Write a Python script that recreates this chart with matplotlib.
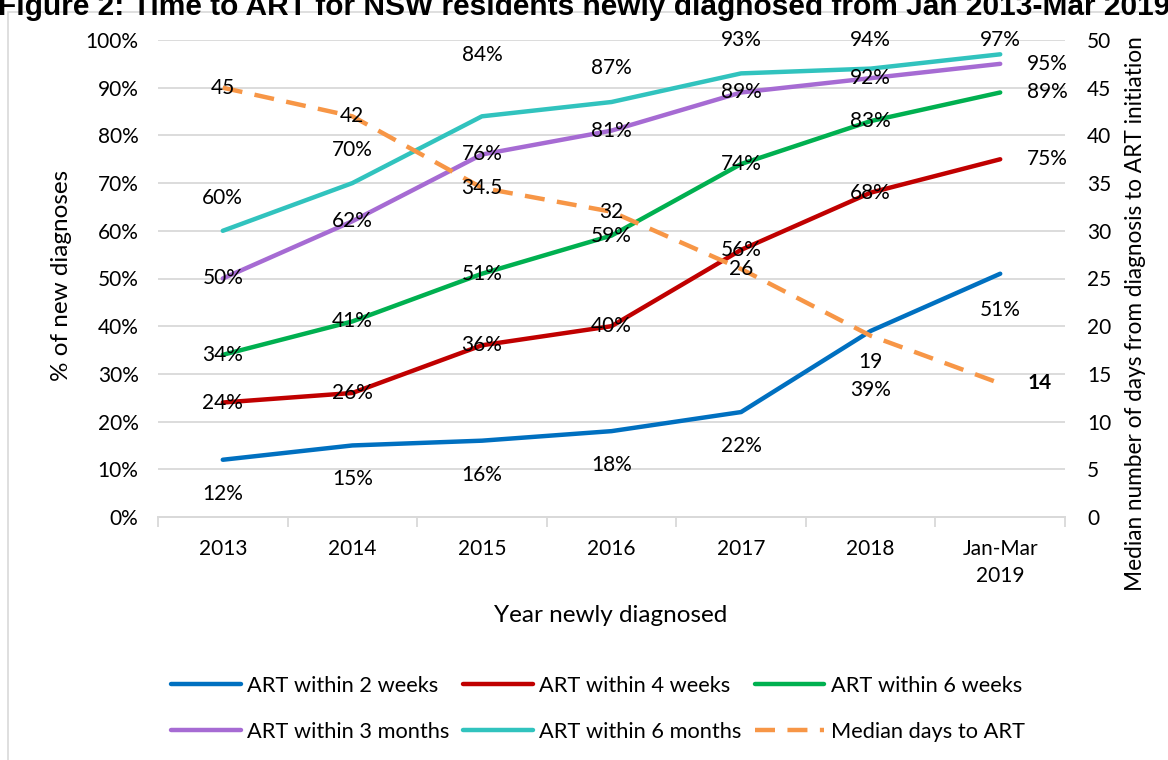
import numpy as np
import matplotlib.pyplot as plt
from matplotlib.patches import Rectangle

plt.rcParams['font.family'] = ['Lato', 'DejaVu Sans']

years = ['2013', '2014', '2015', '2016', '2017', '2018', 'Jan-Mar\n2019']
wk2 = [12, 15, 16, 18, 22, 39, 51]
wk4 = [24, 26, 36, 40, 56, 68, 75]
wk6 = [34, 41, 51, 59, 74, 83, 89]
mo3 = [50, 62, 76, 81, 89, 92, 95]
mo6 = [60, 70, 84, 87, 93, 94, 97]
median_days = [45, 42, 34.5, 32, 26, 19, 14]

W, H = 1168, 760
FS = 15
fig = plt.figure(figsize=(W/100, H/100), dpi=100)

# chart-area frame (partly cropped like the original screenshot)
fig.patches.append(Rectangle((8/W, -0.1), 1.2, 1 - 12/H + 0.1, transform=fig.transFigure,
                             fill=False, edgecolor='#D9D9D9', lw=1.2))
# title is cropped at the top edge in the source screenshot
fig.text(-2/W, 1 - 15/H, 'Figure 2: Time to ART for NSW residents newly diagnosed from Jan 2013-Mar 2019',
         family='Liberation Sans', weight='bold', fontsize=21.5, va='baseline', ha='left')

ax = fig.add_axes([158/W, 1 - 517/H, (1065-158)/W, (517-40)/H])
ax2 = ax.twinx()
x = np.arange(len(years))

series = [
    ('ART within 2 weeks', wk2, '#0070C0'),
    ('ART within 4 weeks', wk4, '#C00000'),
    ('ART within 6 weeks', wk6, '#00B050'),
    ('ART within 3 months', mo3, '#A66BD3'),
    ('ART within 6 months', mo6, '#31C3BE'),
]

# label offsets in pixels (dx, dy), dy up
offsets = {
    'ART within 2 weeks': [(0, -34)] * 5 + [(0, -59), (0, -36)],
    'ART within 4 weeks': [(0, 0)] * 6 + ['right'],
    'ART within 6 weeks': [(0, 0)] * 6 + ['right'],
    'ART within 3 months': [(0, 0)] * 6 + ['right'],
    'ART within 6 months': [(0, 33), (0, 33), (0, 61), (0, 34), (0, 33), (0, 29), (0, 14)],
}

handles = []
for name, vals, col in series:
    h, = ax.plot(x, vals, color=col, lw=3.2, solid_capstyle='round', label=name, zorder=3)
    handles.append(h)
    for i, v in enumerate(vals):
        off = offsets[name][i]
        if off == 'right':
            ax.annotate(f'{v}%', (x[i], v), xytext=(27*0.72, 0), textcoords='offset points',
                        ha='left', va='center', fontsize=FS, zorder=5)
        else:
            ax.annotate(f'{v}%', (x[i], v), xytext=(off[0]*0.72, off[1]*0.72), textcoords='offset points',
                        ha='center', va='center', fontsize=FS, zorder=5)

hm, = ax2.plot(x, median_days, color='#F79646', lw=3.2, ls=(0, (4.5, 2.8)), label='Median days to ART', zorder=3)
handles.append(hm)
med_off = [(0, 0)] * 5 + [(0, -26)]
for i, v in enumerate(median_days):
    lab = f'{v:g}'
    if i == len(median_days) - 1:
        ax2.annotate(lab, (x[i], v), xytext=(27*0.72, 0), textcoords='offset points',
                     ha='left', va='center', fontsize=FS, weight='bold', zorder=5)
    else:
        ax2.annotate(lab, (x[i], v), xytext=(med_off[i][0]*0.72, med_off[i][1]*0.72),
                     textcoords='offset points', ha='center', va='center', fontsize=FS, zorder=5)

ax.set_xlim(-0.5, len(years) - 0.5)
ax.set_ylim(0, 100)
ax2.set_ylim(0, 50)
ax.set_yticks(np.arange(0, 101, 10))
ax.set_yticklabels([f'{t}%' for t in range(0, 101, 10)])
ax2.set_yticks(np.arange(0, 51, 5))
ax.grid(axis='y', color='#D9D9D9', lw=1.3)
ax.set_axisbelow(True)
for a in (ax, ax2):
    for s in ['top', 'left', 'right']:
        a.spines[s].set_visible(False)
    a.spines['bottom'].set_color('#D9D9D9')
    a.spines['bottom'].set_linewidth(1.3)
ax.tick_params(axis='y', length=0, pad=14, labelsize=FS)
ax2.tick_params(axis='y', length=0, pad=16, labelsize=FS)
ax.set_xticks(x)
ax.set_xticklabels(years, fontsize=FS, linespacing=1.45)
ax.tick_params(axis='x', which='major', length=0, pad=16)
ax.set_xticks(np.arange(-0.5, len(years)), minor=True)
ax.tick_params(axis='x', which='minor', length=7, width=1.3, color='#D9D9D9')

fig.text(62/W, 1 - 275/H, '% of new diagnoses', rotation=90, ha='center', va='center', fontsize=17.5)
fig.text(1136/W, 1 - 314/H, 'Median number of days from diagnosis to ART initiation',
         rotation=90, ha='center', va='center', fontsize=16.3)
fig.text(611/W, 1 - 615/H, 'Year newly diagnosed', ha='center', va='center', fontsize=17.5)

order = [0, 3, 1, 4, 2, 5]
fig.legend([handles[i] for i in order], [handles[i].get_label() for i in order],
           ncol=3, frameon=False, loc='center', bbox_to_anchor=(598/W, 1 - 709/H),
           fontsize=15.7, handlelength=3.2, handletextpad=0.3, columnspacing=0.6, labelspacing=1.2)

fig.savefig('out.png', dpi=100)
